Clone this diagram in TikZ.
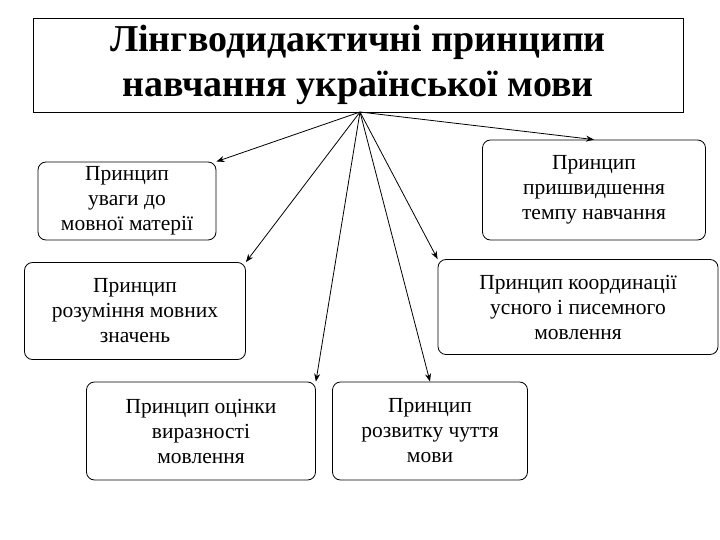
\documentclass[tikz,border=0pt]{standalone}
\usepackage{fontspec}
\setmainfont{Liberation Serif}
\usetikzlibrary{arrows.meta}
\begin{document}
\begin{tikzpicture}[x=1pt,y=-1pt,
  bx/.style={draw,thick,rounded corners=8pt,align=center,inner sep=1pt,font=\fontsize{21.5}{25}\selectfont},
  ar/.style={thick,-{Stealth[length=8pt]}}]
\useasboundingbox (0,0) rectangle (720,540);
\node[draw,thick,minimum width=650,minimum height=94,align=center,inner sep=1pt,font=\bfseries\fontsize{38}{45}\selectfont] (t) at (358,65) {Лінгводидактичні  принципи\\навчання  української  мови};
\node[bx,minimum width=178,minimum height=78] (a) at (127,201) {Принцип\\уваги до\\мовної матерії};
\node[bx,minimum width=223,minimum height=100] (b) at (594,190) {Принцип\\пришвидшення\\темпу навчання};
\node[bx,minimum width=221,minimum height=97] (c) at (135,311) {Принцип\\розуміння мовних\\значень};
\node[bx,minimum width=280,minimum height=95] (d) at (578,307) {Принцип координації\\ усного і писемного\\мовлення};
\node[bx,minimum width=229,minimum height=98] (e) at (201,431) {Принцип оцінки\\виразності\\мовлення};
\node[bx,minimum width=195,minimum height=98] (f) at (430,431) {Принцип\\розвитку чуття\\мови};
\coordinate (s) at (360,112);
\draw[ar] (s) -- (a.north east);
\draw[ar] (s) -- (b.north);
\draw[ar] (s) -- (c.north east);
\draw[ar] (s) -- (d.north west);
\draw[ar] (s) -- (e.north east);
\draw[ar] (s) -- (f.north);
\end{tikzpicture}
\end{document}
